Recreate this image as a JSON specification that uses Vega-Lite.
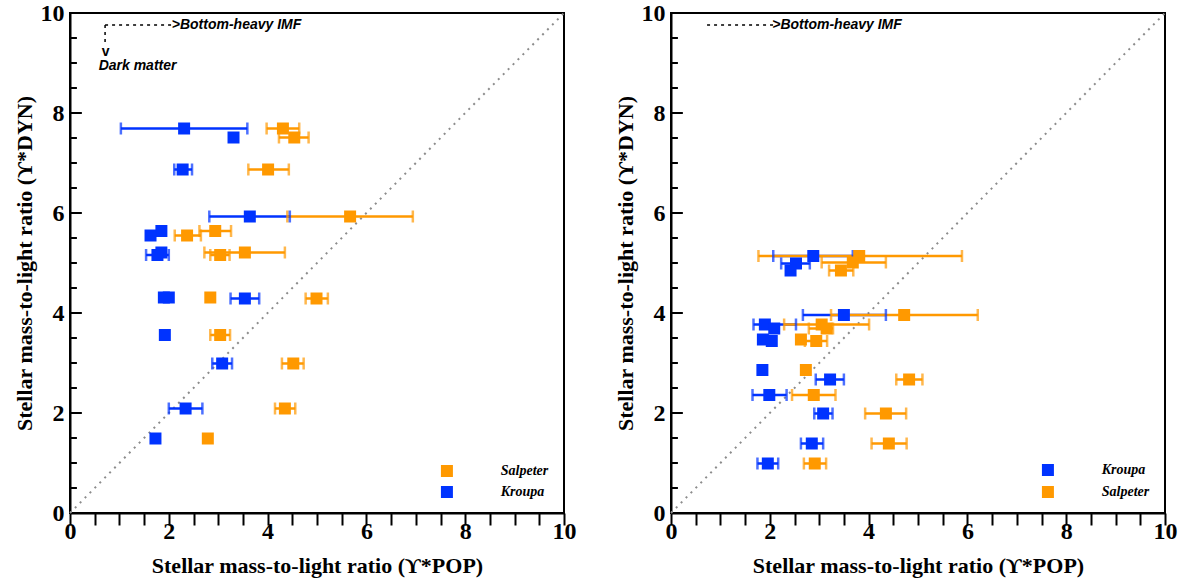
{
  "$schema": "https://vega.github.io/schema/vega-lite/v6.json",
  "padding": {"left": 12, "top": 0, "right": 5, "bottom": 5},
  "background": "white",
  "spacing": 36,
  "datasets": {
    "pts": [
      {"p": "L", "imf": "Kroupa", "x": 2.31, "y": 7.69, "lo": 1.03, "hi": 3.59},
      {"p": "L", "imf": "Kroupa", "x": 3.31, "y": 7.51, "lo": null, "hi": null},
      {"p": "L", "imf": "Kroupa", "x": 2.28, "y": 6.87, "lo": 2.11, "hi": 2.47},
      {"p": "L", "imf": "Kroupa", "x": 3.64, "y": 5.93, "lo": 2.82, "hi": 4.45},
      {"p": "L", "imf": "Kroupa", "x": 1.85, "y": 5.64, "lo": null, "hi": null},
      {"p": "L", "imf": "Kroupa", "x": 1.63, "y": 5.55, "lo": null, "hi": null},
      {"p": "L", "imf": "Kroupa", "x": 1.85, "y": 5.21, "lo": null, "hi": null},
      {"p": "L", "imf": "Kroupa", "x": 1.77, "y": 5.16, "lo": 1.54, "hi": 2.0},
      {"p": "L", "imf": "Kroupa", "x": 1.9, "y": 4.31, "lo": null, "hi": null},
      {"p": "L", "imf": "Kroupa", "x": 2.0, "y": 4.31, "lo": null, "hi": null},
      {"p": "L", "imf": "Kroupa", "x": 3.54, "y": 4.29, "lo": 3.25, "hi": 3.83},
      {"p": "L", "imf": "Kroupa", "x": 1.92, "y": 3.56, "lo": null, "hi": null},
      {"p": "L", "imf": "Kroupa", "x": 3.08, "y": 2.99, "lo": 2.88, "hi": 3.28},
      {"p": "L", "imf": "Kroupa", "x": 2.34, "y": 2.09, "lo": 2.0, "hi": 2.68},
      {"p": "L", "imf": "Kroupa", "x": 1.73, "y": 1.49, "lo": null, "hi": null},
      {"p": "L", "imf": "Salpeter", "x": 4.31, "y": 7.69, "lo": 3.98, "hi": 4.64},
      {"p": "L", "imf": "Salpeter", "x": 4.54, "y": 7.51, "lo": 4.23, "hi": 4.83},
      {"p": "L", "imf": "Salpeter", "x": 4.01, "y": 6.87, "lo": 3.61, "hi": 4.43},
      {"p": "L", "imf": "Salpeter", "x": 5.67, "y": 5.93, "lo": 4.4, "hi": 6.94},
      {"p": "L", "imf": "Salpeter", "x": 2.94, "y": 5.64, "lo": 2.62, "hi": 3.26},
      {"p": "L", "imf": "Salpeter", "x": 2.37, "y": 5.55, "lo": 2.12, "hi": 2.65},
      {"p": "L", "imf": "Salpeter", "x": 3.54, "y": 5.21, "lo": 2.72, "hi": 4.35},
      {"p": "L", "imf": "Salpeter", "x": 3.04, "y": 5.16, "lo": 2.84, "hi": 3.23},
      {"p": "L", "imf": "Salpeter", "x": 2.84, "y": 4.31, "lo": null, "hi": null},
      {"p": "L", "imf": "Salpeter", "x": 4.99, "y": 4.29, "lo": 4.77, "hi": 5.22},
      {"p": "L", "imf": "Salpeter", "x": 3.04, "y": 3.56, "lo": 2.84, "hi": 3.24},
      {"p": "L", "imf": "Salpeter", "x": 4.52, "y": 2.99, "lo": 4.29, "hi": 4.73},
      {"p": "L", "imf": "Salpeter", "x": 4.35, "y": 2.09, "lo": 4.15, "hi": 4.56},
      {"p": "L", "imf": "Salpeter", "x": 2.79, "y": 1.49, "lo": null, "hi": null},
      {"p": "R", "imf": "Kroupa", "x": 2.88, "y": 5.14, "lo": 2.07, "hi": 3.68},
      {"p": "R", "imf": "Kroupa", "x": 2.53, "y": 4.99, "lo": 2.23, "hi": 2.81},
      {"p": "R", "imf": "Kroupa", "x": 2.42, "y": 4.85, "lo": null, "hi": null},
      {"p": "R", "imf": "Kroupa", "x": 3.5, "y": 3.96, "lo": 2.67, "hi": 4.35},
      {"p": "R", "imf": "Kroupa", "x": 1.9, "y": 3.77, "lo": 1.67, "hi": 2.53},
      {"p": "R", "imf": "Kroupa", "x": 2.09, "y": 3.69, "lo": null, "hi": null},
      {"p": "R", "imf": "Kroupa", "x": 1.86, "y": 3.47, "lo": null, "hi": null},
      {"p": "R", "imf": "Kroupa", "x": 2.04, "y": 3.44, "lo": null, "hi": null},
      {"p": "R", "imf": "Kroupa", "x": 1.85, "y": 2.86, "lo": null, "hi": null},
      {"p": "R", "imf": "Kroupa", "x": 3.22, "y": 2.67, "lo": 2.93, "hi": 3.5},
      {"p": "R", "imf": "Kroupa", "x": 1.99, "y": 2.36, "lo": 1.65, "hi": 2.34},
      {"p": "R", "imf": "Kroupa", "x": 3.08, "y": 1.99, "lo": 2.9, "hi": 3.27},
      {"p": "R", "imf": "Kroupa", "x": 2.85, "y": 1.39, "lo": 2.63, "hi": 3.08},
      {"p": "R", "imf": "Kroupa", "x": 1.96, "y": 0.99, "lo": 1.75, "hi": 2.17},
      {"p": "R", "imf": "Salpeter", "x": 3.81, "y": 5.14, "lo": 1.77, "hi": 5.89},
      {"p": "R", "imf": "Salpeter", "x": 3.68, "y": 5.01, "lo": 3.05, "hi": 4.35},
      {"p": "R", "imf": "Salpeter", "x": 3.44, "y": 4.85, "lo": 3.2, "hi": 3.69},
      {"p": "R", "imf": "Salpeter", "x": 4.72, "y": 3.96, "lo": 3.24, "hi": 6.21},
      {"p": "R", "imf": "Salpeter", "x": 3.05, "y": 3.77, "lo": 2.29, "hi": 4.01},
      {"p": "R", "imf": "Salpeter", "x": 3.15, "y": 3.69, "lo": 2.79, "hi": 3.28},
      {"p": "R", "imf": "Salpeter", "x": 2.63, "y": 3.47, "lo": null, "hi": null},
      {"p": "R", "imf": "Salpeter", "x": 2.94, "y": 3.44, "lo": 2.71, "hi": 3.16},
      {"p": "R", "imf": "Salpeter", "x": 2.73, "y": 2.86, "lo": null, "hi": null},
      {"p": "R", "imf": "Salpeter", "x": 4.82, "y": 2.67, "lo": 4.56, "hi": 5.09},
      {"p": "R", "imf": "Salpeter", "x": 2.89, "y": 2.36, "lo": 2.45, "hi": 3.33},
      {"p": "R", "imf": "Salpeter", "x": 4.35, "y": 1.99, "lo": 3.93, "hi": 4.76},
      {"p": "R", "imf": "Salpeter", "x": 4.41, "y": 1.39, "lo": 4.06, "hi": 4.77},
      {"p": "R", "imf": "Salpeter", "x": 2.91, "y": 0.99, "lo": 2.69, "hi": 3.14}
    ],
    "ymajor": [{"y": 2}, {"y": 4}, {"y": 6}, {"y": 8}],
    "yminor": [
      {"y": 0.5}, {"y": 1}, {"y": 1.5}, {"y": 2.5}, {"y": 3}, {"y": 3.5}, {"y": 4.5}, {"y": 5},
      {"y": 5.5}, {"y": 6.5}, {"y": 7}, {"y": 7.5}, {"y": 8.5}, {"y": 9}, {"y": 9.5}
    ],
    "diag": [{"x": 0, "y": 0, "x2": 10, "y2": 10}],
    "arrowsL": [
      {"x": 0.71, "y": 9.76, "x2": 2.1, "y2": 9.76},
      {"x": 0.71, "y": 9.76, "x2": 0.71, "y2": 9.38}
    ],
    "arrowsR": [
      {"x": 0.73, "y": 9.76, "x2": 2.08, "y2": 9.76}
    ],
    "labelsL": [
      {"x": 2.06, "y": 9.76, "t": ">Bottom-heavy IMF"},
      {"x": 0.58, "y": 8.94, "t": "Dark matter"}
    ],
    "vL": [{"x": 0.72, "y": 9.22, "t": "v"}],
    "labelsR": [
      {"x": 2.05, "y": 9.76, "t": ">Bottom-heavy IMF"}
    ],
    "legL": [{"imf": "Salpeter", "k": 0.84}, {"imf": "Kroupa", "k": 0.42}],
    "legR": [{"imf": "Kroupa", "k": 0.86}, {"imf": "Salpeter", "k": 0.42}]
  },
  "config": {
    "view": {"stroke": "black", "strokeWidth": 2},
    "axis": {
      "grid": false,
      "zindex": 1,
      "domainColor": "black",
      "domainWidth": 2,
      "tickColor": "black",
      "tickWidth": 2,
      "labelFont": "Liberation Serif",
      "labelFontWeight": "bold",
      "labelFontSize": 24,
      "labelColor": "black",
      "titleFont": "Liberation Serif",
      "titleFontWeight": "bold",
      "titleFontSize": 22,
      "titleColor": "black",
      "labelOverlap": false,
      "labelFlush": false
    },
    "axisX": {"titlePadding": 12, "ticks": true, "tickSize": 12, "labelPadding": -6},
    "axisY": {"ticks": false, "labelPadding": 6},
    "text": {"font": "Liberation Serif", "fontStyle": "italic", "fontWeight": "bold", "fontSize": 14, "color": "black", "baseline": "middle", "align": "left"}
  },
  "resolve": {"scale": {"fill": "independent", "stroke": "independent", "color": "independent"}},
  "hconcat": [
    {
      "width": 494,
      "height": 500,
      "encoding": {
        "x": {"type": "quantitative", "scale": {"domain": [0, 10], "nice": false}, "axis": {"title": "Stellar mass-to-light ratio (ϒ*POP)", "values": [0, 0.5, 1, 1.5, 2, 2.5, 3, 3.5, 4, 4.5, 5, 5.5, 6, 6.5, 7, 7.5, 8, 8.5, 9, 9.5, 10], "labelExpr": "datum.value % 2 === 0 ? format(datum.value, 'd') : ''", "encode": {"ticks": {"update": {"y2": {"signal": "datum.value % 2 === 0 ? -12 : -7"}}}}}},
        "y": {"type": "quantitative", "scale": {"domain": [0, 10], "nice": false}, "axis": {"title": "Stellar mass-to-light ratio (ϒ*DYN)", "values": [0, 2, 4, 6, 8, 10], "format": "d"}}
      },
      "layer": [
        {
          "data": {"name": "diag"},
          "mark": {"type": "rule", "color": "#8c8c8c", "strokeWidth": 2, "strokeDash": [2, 5]},
          "encoding": {"x": {"field": "x"}, "y": {"field": "y"}, "x2": {"field": "x2"}, "y2": {"field": "y2"}}
        },
        {
          "data": {"name": "arrowsL"},
          "mark": {"type": "rule", "color": "black", "strokeWidth": 1.5, "strokeDash": [3, 4]},
          "encoding": {"x": {"field": "x"}, "y": {"field": "y"}, "x2": {"field": "x2"}, "y2": {"field": "y2"}}
        },
        {
          "data": {"name": "labelsL"},
          "mark": {"type": "text", "font": "Liberation Sans"},
          "encoding": {"x": {"field": "x"}, "y": {"field": "y"}, "text": {"field": "t"}}
        },
        {
          "data": {"name": "vL"},
          "mark": {"type": "text", "align": "center", "font": "Liberation Sans", "fontStyle": "normal"},
          "encoding": {"x": {"field": "x"}, "y": {"field": "y"}, "text": {"field": "t"}}
        },
        {
          "data": {"name": "pts"},
          "transform": [{"filter": "datum.p === 'L' && datum.lo != null"}],
          "mark": {"type": "rule", "strokeWidth": 2.5},
          "encoding": {"x": {"field": "lo"}, "x2": {"field": "hi"}, "y": {"field": "y"}, "stroke": {"field": "imf", "type": "nominal", "scale": {"domain": ["Salpeter", "Kroupa"], "range": ["#ff9900", "#0033ff"]}, "legend": null}}
        },
        {
          "data": {"name": "pts"},
          "transform": [{"filter": "datum.p === 'L' && datum.lo != null"}],
          "mark": {"type": "tick", "orient": "vertical", "size": 12, "thickness": 2.5},
          "encoding": {"x": {"field": "lo"}, "y": {"field": "y"}, "color": {"field": "imf", "type": "nominal", "scale": {"domain": ["Salpeter", "Kroupa"], "range": ["#ff9900", "#0033ff"]}, "legend": null}}
        },
        {
          "data": {"name": "pts"},
          "transform": [{"filter": "datum.p === 'L' && datum.lo != null"}],
          "mark": {"type": "tick", "orient": "vertical", "size": 12, "thickness": 2.5},
          "encoding": {"x": {"field": "hi"}, "y": {"field": "y"}, "color": {"field": "imf", "type": "nominal", "legend": null}}
        },
        {
          "data": {"name": "pts"},
          "transform": [{"filter": "datum.p === 'L'"}],
          "mark": {"type": "point", "shape": "square", "filled": true, "size": 144, "opacity": 1},
          "encoding": {"x": {"field": "x"}, "y": {"field": "y"}, "fill": {"field": "imf", "type": "nominal", "scale": {"domain": ["Salpeter", "Kroupa"], "range": ["#ff9900", "#0033ff"]}, "legend": null}}
        },
        {
          "data": {"name": "legL"},
          "mark": {"type": "point", "shape": "square", "filled": true, "size": 144, "opacity": 1},
          "encoding": {"x": {"datum": 7.63}, "y": {"field": "k"}, "fill": {"field": "imf", "type": "nominal", "legend": null}}
        },
        {
          "data": {"name": "legL"},
          "mark": {"type": "text"},
          "encoding": {"x": {"datum": 8.72}, "y": {"field": "k"}, "text": {"field": "imf"}}
        },
        {
          "data": {"name": "ymajor"},
          "mark": {"type": "rule", "strokeWidth": 2, "color": "black"},
          "encoding": {"x": {"datum": 0}, "x2": {"datum": 0.24}, "y": {"field": "y"}}
        },
        {
          "data": {"name": "yminor"},
          "mark": {"type": "rule", "strokeWidth": 2, "color": "black"},
          "encoding": {"x": {"datum": 0}, "x2": {"datum": 0.14}, "y": {"field": "y"}}
        }
      ]
    },
    {
      "width": 494,
      "height": 500,
      "encoding": {
        "x": {"type": "quantitative", "scale": {"domain": [0, 10], "nice": false}, "axis": {"title": "Stellar mass-to-light ratio (ϒ*POP)", "values": [0, 0.5, 1, 1.5, 2, 2.5, 3, 3.5, 4, 4.5, 5, 5.5, 6, 6.5, 7, 7.5, 8, 8.5, 9, 9.5, 10], "labelExpr": "datum.value % 2 === 0 ? format(datum.value, 'd') : ''", "encode": {"ticks": {"update": {"y2": {"signal": "datum.value % 2 === 0 ? -12 : -7"}}}}}},
        "y": {"type": "quantitative", "scale": {"domain": [0, 10], "nice": false}, "axis": {"title": "Stellar mass-to-light ratio (ϒ*DYN)", "values": [0, 2, 4, 6, 8, 10], "format": "d"}}
      },
      "layer": [
        {
          "data": {"name": "diag"},
          "mark": {"type": "rule", "color": "#8c8c8c", "strokeWidth": 2, "strokeDash": [2, 5]},
          "encoding": {"x": {"field": "x"}, "y": {"field": "y"}, "x2": {"field": "x2"}, "y2": {"field": "y2"}}
        },
        {
          "data": {"name": "arrowsR"},
          "mark": {"type": "rule", "color": "black", "strokeWidth": 1.5, "strokeDash": [3, 4]},
          "encoding": {"x": {"field": "x"}, "y": {"field": "y"}, "x2": {"field": "x2"}, "y2": {"field": "y2"}}
        },
        {
          "data": {"name": "labelsR"},
          "mark": {"type": "text", "font": "Liberation Sans"},
          "encoding": {"x": {"field": "x"}, "y": {"field": "y"}, "text": {"field": "t"}}
        },
        {
          "data": {"name": "pts"},
          "transform": [{"filter": "datum.p === 'R' && datum.lo != null"}],
          "mark": {"type": "rule", "strokeWidth": 2.5},
          "encoding": {"x": {"field": "lo"}, "x2": {"field": "hi"}, "y": {"field": "y"}, "stroke": {"field": "imf", "type": "nominal", "scale": {"domain": ["Kroupa", "Salpeter"], "range": ["#0033ff", "#ff9900"]}, "legend": null}}
        },
        {
          "data": {"name": "pts"},
          "transform": [{"filter": "datum.p === 'R' && datum.lo != null"}],
          "mark": {"type": "tick", "orient": "vertical", "size": 12, "thickness": 2.5},
          "encoding": {"x": {"field": "lo"}, "y": {"field": "y"}, "color": {"field": "imf", "type": "nominal", "scale": {"domain": ["Kroupa", "Salpeter"], "range": ["#0033ff", "#ff9900"]}, "legend": null}}
        },
        {
          "data": {"name": "pts"},
          "transform": [{"filter": "datum.p === 'R' && datum.lo != null"}],
          "mark": {"type": "tick", "orient": "vertical", "size": 12, "thickness": 2.5},
          "encoding": {"x": {"field": "hi"}, "y": {"field": "y"}, "color": {"field": "imf", "type": "nominal", "legend": null}}
        },
        {
          "data": {"name": "pts"},
          "transform": [{"filter": "datum.p === 'R'"}],
          "mark": {"type": "point", "shape": "square", "filled": true, "size": 144, "opacity": 1},
          "encoding": {"x": {"field": "x"}, "y": {"field": "y"}, "fill": {"field": "imf", "type": "nominal", "scale": {"domain": ["Kroupa", "Salpeter"], "range": ["#0033ff", "#ff9900"]}, "legend": null}}
        },
        {
          "data": {"name": "legR"},
          "mark": {"type": "point", "shape": "square", "filled": true, "size": 144, "opacity": 1},
          "encoding": {"x": {"datum": 7.63}, "y": {"field": "k"}, "fill": {"field": "imf", "type": "nominal", "legend": null}}
        },
        {
          "data": {"name": "legR"},
          "mark": {"type": "text"},
          "encoding": {"x": {"datum": 8.72}, "y": {"field": "k"}, "text": {"field": "imf"}}
        },
        {
          "data": {"name": "ymajor"},
          "mark": {"type": "rule", "strokeWidth": 2, "color": "black"},
          "encoding": {"x": {"datum": 0}, "x2": {"datum": 0.24}, "y": {"field": "y"}}
        },
        {
          "data": {"name": "yminor"},
          "mark": {"type": "rule", "strokeWidth": 2, "color": "black"},
          "encoding": {"x": {"datum": 0}, "x2": {"datum": 0.14}, "y": {"field": "y"}}
        }
      ]
    }
  ]
}
